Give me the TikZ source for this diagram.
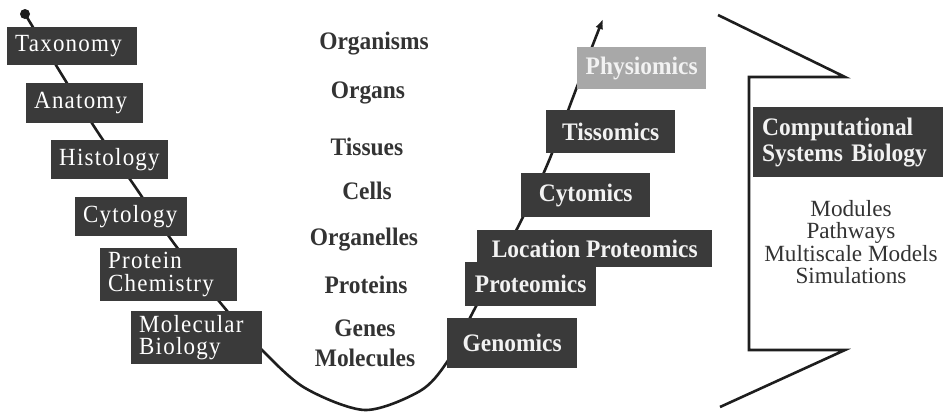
\documentclass[tikz,border=0pt]{standalone}
\usepackage{fontspec}
\setmainfont{Liberation Serif}[FakeStretch=0.93]
\newfontfamily\leftfont{Liberation Serif}[LetterSpace=5,FakeStretch=0.93]
\newfontfamily\listfont{Liberation Serif}[FakeStretch=1.0]
\usetikzlibrary{arrows.meta}
\definecolor{boxdark}{HTML}{3A3A3A}
\definecolor{boxgray}{HTML}{A8A8A8}
\definecolor{inkgray}{HTML}{333333}
\definecolor{linedark}{HTML}{1E1E1E}
\hyphenpenalty=10000
\tikzset{
  lbox/.style={fill=boxdark, text=white, font=\leftfont\fontsize{24.7}{22.5}\selectfont,
    align=left, inner xsep=8pt, inner ysep=0pt, anchor=north west},
  rbox/.style={fill=boxdark, text=white!95!black, font=\bfseries\fontsize{25.2}{26}\selectfont,
    align=center, inner xsep=0pt, inner ysep=0pt, anchor=north west},
  level/.style={text=inkgray, font=\bfseries\fontsize{25.2}{24}\selectfont, align=center, inner sep=0pt},
  listtext/.style={text=inkgray, font=\listfont\fontsize{23.2}{22.5}\selectfont, inner sep=0pt},
  curve/.style={draw=linedark, line width=2.6pt, line cap=round},
  bracket/.style={draw=linedark, line width=2.6pt, line join=miter},
}
\begin{document}
\begin{tikzpicture}[x=1pt,y=-1pt]
\useasboundingbox (0,0) rectangle (945,415);
\fill[white] (0,0) rectangle (945,415);

% main curve
\coordinate (dot) at (25,14);
\coordinate (tip) at (603,19);
\draw[curve, -{Latex[length=10pt,width=8pt]}] plot[smooth,tension=0.5] coordinates {(dot) (62,75) (97,131) (136,188) (173,242) (223,306) (262,350) (305,388) (365,410) (420,391) (447,362) (473,312) (520,223) (548,163) (572,100) (592,47) (tip)};
\fill[linedark] (dot) circle[radius=5pt];

% left boxes
\node[lbox, text width=114pt, minimum height=38pt] (tax) at (7,27) {Taxonomy};
\node[lbox, text width=101pt, minimum height=40pt] (ana) at (26,83) {Anatomy};
\node[lbox, text width=101pt, minimum height=39pt] (his) at (51,140) {Histology};
\node[lbox, text width=96pt, minimum height=39pt] (cyt) at (75,197) {Cytology};
\node[lbox, text width=121pt, minimum height=53pt] (pch) at (100,248) {Protein\\Chemistry};
\node[lbox, text width=115pt, minimum height=53pt] (mol) at (131,311) {Molecular\\Biology};

% centre levels
\node[level] (org) at (374,44) {Organisms};
\node[level] (orn) at (368,93) {Organs};
\node[level] (tis) at (367,147) {Tissues};
\node[level] (cel) at (367,191) {Cells};
\node[level] (oge) at (364,240) {Organelles};
\node[level] (pro) at (366,285) {Proteins};
\node[level] (gen) at (365,328) {Genes};
\node[level] (mlc) at (365,358) {Molecules};

% right boxes
\node[rbox, minimum width=130pt, minimum height=50pt] (gnm) at (447,318) {Genomics};
\node[rbox, minimum width=235pt, minimum height=37pt] (lpr) at (477,230) {Location Proteomics};
\node[rbox, minimum width=131pt, minimum height=44pt] (prt) at (465,262) {Proteomics};
\node[rbox, minimum width=129pt, minimum height=44pt] (cym) at (521,173) {Cytomics};
\node[rbox, minimum width=129pt, minimum height=43pt] (tsm) at (546,110) {Tissomics};
\node[rbox, fill=boxgray, minimum width=129pt, minimum height=42pt] (phy) at (577,47) {Physiomics};

% bracket
\coordinate (b1) at (718,15);
\coordinate (b2) at (845,77);
\coordinate (b3) at (749,77);
\coordinate (b4) at (749,350);
\coordinate (b5) at (845,350);
\coordinate (b6) at (720,407);
\draw[bracket] (b1) -- (b2) -- (b3) -- (b4) -- (b5) -- (b6);

\node[rbox, align=left, text width=172pt, inner xsep=9pt, minimum height=70pt] (csb) at (753,107) {Computational\\Systems Biology};
\node[listtext, align=center] (lst) at (851,242) {Modules\\Pathways\\Multiscale Models\\Simulations};
\end{tikzpicture}
\end{document}
